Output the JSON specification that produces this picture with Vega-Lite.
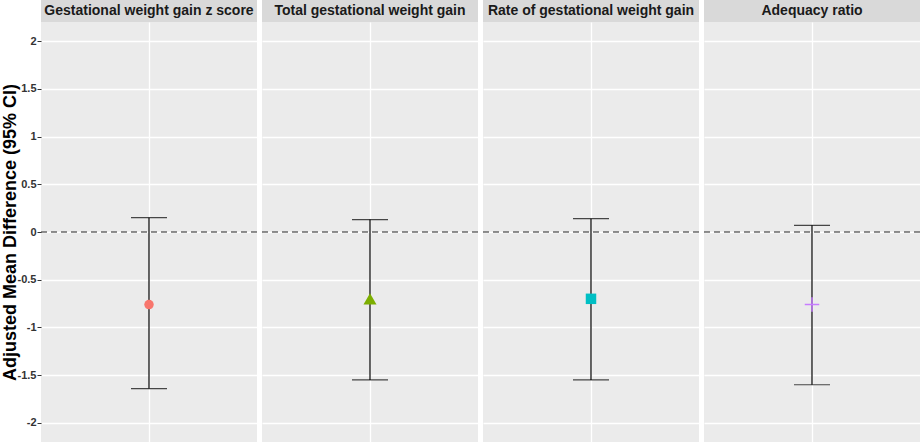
{
  "$schema": "https://vega.github.io/schema/vega-lite/v6.json",
  "padding": {"left": 1, "top": 0, "right": 0, "bottom": 0},
  "background": "#FFFFFF",
  "data": {"values": [
    {"measure": "Gestational weight gain z score", "estimate": -0.76, "lower": -1.64, "upper": 0.15},
    {"measure": "Total gestational weight gain", "estimate": -0.70, "lower": -1.55, "upper": 0.13},
    {"measure": "Rate of gestational weight gain", "estimate": -0.70, "lower": -1.55, "upper": 0.14},
    {"measure": "Adequacy ratio", "estimate": -0.76, "lower": -1.60, "upper": 0.07}
  ]},
  "spacing": 3,
  "hconcat": [
    {
      "transform": [{"filter": {"field": "measure", "equal": "Gestational weight gain z score"}}],
      "spacing": 0,
      "vconcat": [
        {"width": 216, "height": 22, "view": {"fill": "#D9D9D9", "stroke": null},
         "mark": {"type": "text", "fontSize": 14, "fontWeight": "bold", "color": "#1A1A1A", "baseline": "middle"},
         "encoding": {"text": {"field": "measure"}}},
        {"width": 216, "height": 420,
         "layer": [
           {"mark": {"type": "rule", "color": "#000000", "strokeWidth": 1.2},
            "encoding": {
              "x": {"field": "measure", "type": "nominal", "scale": {"type": "point"}, "axis": {"grid": true, "gridColor": "#FFFFFF", "gridWidth": 1.3, "labels": false, "ticks": false, "domain": false, "title": null}},
              "y": {"field": "lower", "type": "quantitative", "scale": {"domain": [-2.2, 2.2], "nice": false, "zero": false},
                    "axis": {"values": [-2,-1.75,-1.5,-1.25,-1,-0.75,-0.5,-0.25,0,0.25,0.5,0.75,1,1.25,1.5,1.75,2],
                             "labelExpr": "datum.value % 0.5 === 0 ? '' + datum.value : ''",
                             "labelOverlap": false, "labelFlush": false,
                             "title": "Adjusted Mean Difference (95% CI)", "titleFontSize": 18, "titleFontWeight": "bold", "titleColor": "#000000", "titlePadding": -2,
                             "labelFontSize": 11, "labelFontWeight": "bold", "labelColor": "#333333", "labelPadding": 1,
                             "tickSize": 4, "tickColor": "#333333",
                             "tickOpacity": {"condition": {"test": "datum.value % 0.5 !== 0", "value": 0}, "value": 1},
                             "domain": false, "grid": true, "gridColor": "#FFFFFF",
                             "gridWidth": {"condition": {"test": "datum.value % 0.5 === 0", "value": 1.3}, "value": 0.6}}},
              "y2": {"field": "upper"}}},
           {"mark": {"type": "rule", "strokeDash": [6, 4], "color": "#222222", "strokeWidth": 1},
            "encoding": {"y": {"datum": 0, "type": "quantitative", "title": "Adjusted Mean Difference (95% CI)"}}},
           {"mark": {"type": "tick", "orient": "horizontal", "size": 36, "thickness": 1.2, "color": "#000000"},
            "encoding": {"x": {"field": "measure", "type": "nominal", "title": null}, "y": {"field": "lower", "type": "quantitative", "title": "Adjusted Mean Difference (95% CI)"}}},
           {"mark": {"type": "tick", "orient": "horizontal", "size": 36, "thickness": 1.2, "color": "#000000"},
            "encoding": {"x": {"field": "measure", "type": "nominal", "title": null}, "y": {"field": "upper", "type": "quantitative", "title": "Adjusted Mean Difference (95% CI)"}}},
           {"mark": {"type": "point", "filled": true, "opacity": 1},
            "encoding": {
              "x": {"field": "measure", "type": "nominal", "title": null},
              "y": {"field": "estimate", "type": "quantitative", "title": "Adjusted Mean Difference (95% CI)"},
              "color": {"field": "measure", "type": "nominal", "legend": null, "scale": {"domain": ["Gestational weight gain z score", "Total gestational weight gain", "Rate of gestational weight gain", "Adequacy ratio"], "range": ["#F8766D", "#7CAE00", "#00BFC4", "#C77CFF"]}},
              "shape": {"field": "measure", "type": "nominal", "legend": null, "scale": {"domain": ["Gestational weight gain z score", "Total gestational weight gain", "Rate of gestational weight gain", "Adequacy ratio"], "range": ["circle", "triangle-up", "square", "M-1,-0.1H-0.1V-1H0.1V-0.1H1V0.1H0.1V1H-0.1V0.1H-1Z"]}},
              "size": {"field": "measure", "type": "nominal", "legend": null, "scale": {"type": "ordinal", "domain": ["Gestational weight gain z score", "Total gestational weight gain", "Rate of gestational weight gain", "Adequacy ratio"], "range": [90, 170, 110, 210]}}}}
         ]}
      ]
    },
    {
      "transform": [{"filter": {"field": "measure", "equal": "Total gestational weight gain"}}],
      "spacing": 0,
      "vconcat": [
        {"width": 216, "height": 22, "view": {"fill": "#D9D9D9", "stroke": null},
         "mark": {"type": "text", "fontSize": 14, "fontWeight": "bold", "color": "#1A1A1A", "baseline": "middle"},
         "encoding": {"text": {"field": "measure"}}},
        {"width": 216, "height": 420,
         "layer": [
           {"mark": {"type": "rule", "color": "#000000", "strokeWidth": 1.2},
            "encoding": {
              "x": {"field": "measure", "type": "nominal", "scale": {"type": "point"}, "axis": {"grid": true, "gridColor": "#FFFFFF", "gridWidth": 1.3, "labels": false, "ticks": false, "domain": false, "title": null}},
              "y": {"field": "lower", "type": "quantitative", "scale": {"domain": [-2.2, 2.2], "nice": false, "zero": false},
                    "axis": {"values": [-2,-1.75,-1.5,-1.25,-1,-0.75,-0.5,-0.25,0,0.25,0.5,0.75,1,1.25,1.5,1.75,2],
                             "labels": false, "ticks": false, "title": null,
                             "domain": false, "grid": true, "gridColor": "#FFFFFF",
                             "gridWidth": {"condition": {"test": "datum.value % 0.5 === 0", "value": 1.3}, "value": 0.6}}},
              "y2": {"field": "upper"}}},
           {"mark": {"type": "rule", "strokeDash": [6, 4], "color": "#222222", "strokeWidth": 1},
            "encoding": {"y": {"datum": 0, "type": "quantitative", "title": null}}},
           {"mark": {"type": "tick", "orient": "horizontal", "size": 36, "thickness": 1.2, "color": "#000000"},
            "encoding": {"x": {"field": "measure", "type": "nominal", "title": null}, "y": {"field": "lower", "type": "quantitative", "title": null}}},
           {"mark": {"type": "tick", "orient": "horizontal", "size": 36, "thickness": 1.2, "color": "#000000"},
            "encoding": {"x": {"field": "measure", "type": "nominal", "title": null}, "y": {"field": "upper", "type": "quantitative", "title": null}}},
           {"mark": {"type": "point", "filled": true, "opacity": 1},
            "encoding": {
              "x": {"field": "measure", "type": "nominal", "title": null},
              "y": {"field": "estimate", "type": "quantitative", "title": null},
              "color": {"field": "measure", "type": "nominal", "legend": null, "scale": {"domain": ["Gestational weight gain z score", "Total gestational weight gain", "Rate of gestational weight gain", "Adequacy ratio"], "range": ["#F8766D", "#7CAE00", "#00BFC4", "#C77CFF"]}},
              "shape": {"field": "measure", "type": "nominal", "legend": null, "scale": {"domain": ["Gestational weight gain z score", "Total gestational weight gain", "Rate of gestational weight gain", "Adequacy ratio"], "range": ["circle", "triangle-up", "square", "M-1,-0.1H-0.1V-1H0.1V-0.1H1V0.1H0.1V1H-0.1V0.1H-1Z"]}},
              "size": {"field": "measure", "type": "nominal", "legend": null, "scale": {"type": "ordinal", "domain": ["Gestational weight gain z score", "Total gestational weight gain", "Rate of gestational weight gain", "Adequacy ratio"], "range": [90, 170, 110, 210]}}}}
         ]}
      ]
    },
    {
      "transform": [{"filter": {"field": "measure", "equal": "Rate of gestational weight gain"}}],
      "spacing": 0,
      "vconcat": [
        {"width": 216, "height": 22, "view": {"fill": "#D9D9D9", "stroke": null},
         "mark": {"type": "text", "fontSize": 14, "fontWeight": "bold", "color": "#1A1A1A", "baseline": "middle"},
         "encoding": {"text": {"field": "measure"}}},
        {"width": 216, "height": 420,
         "layer": [
           {"mark": {"type": "rule", "color": "#000000", "strokeWidth": 1.2},
            "encoding": {
              "x": {"field": "measure", "type": "nominal", "scale": {"type": "point"}, "axis": {"grid": true, "gridColor": "#FFFFFF", "gridWidth": 1.3, "labels": false, "ticks": false, "domain": false, "title": null}},
              "y": {"field": "lower", "type": "quantitative", "scale": {"domain": [-2.2, 2.2], "nice": false, "zero": false},
                    "axis": {"values": [-2,-1.75,-1.5,-1.25,-1,-0.75,-0.5,-0.25,0,0.25,0.5,0.75,1,1.25,1.5,1.75,2],
                             "labels": false, "ticks": false, "title": null,
                             "domain": false, "grid": true, "gridColor": "#FFFFFF",
                             "gridWidth": {"condition": {"test": "datum.value % 0.5 === 0", "value": 1.3}, "value": 0.6}}},
              "y2": {"field": "upper"}}},
           {"mark": {"type": "rule", "strokeDash": [6, 4], "color": "#222222", "strokeWidth": 1},
            "encoding": {"y": {"datum": 0, "type": "quantitative", "title": null}}},
           {"mark": {"type": "tick", "orient": "horizontal", "size": 36, "thickness": 1.2, "color": "#000000"},
            "encoding": {"x": {"field": "measure", "type": "nominal", "title": null}, "y": {"field": "lower", "type": "quantitative", "title": null}}},
           {"mark": {"type": "tick", "orient": "horizontal", "size": 36, "thickness": 1.2, "color": "#000000"},
            "encoding": {"x": {"field": "measure", "type": "nominal", "title": null}, "y": {"field": "upper", "type": "quantitative", "title": null}}},
           {"mark": {"type": "point", "filled": true, "opacity": 1},
            "encoding": {
              "x": {"field": "measure", "type": "nominal", "title": null},
              "y": {"field": "estimate", "type": "quantitative", "title": null},
              "color": {"field": "measure", "type": "nominal", "legend": null, "scale": {"domain": ["Gestational weight gain z score", "Total gestational weight gain", "Rate of gestational weight gain", "Adequacy ratio"], "range": ["#F8766D", "#7CAE00", "#00BFC4", "#C77CFF"]}},
              "shape": {"field": "measure", "type": "nominal", "legend": null, "scale": {"domain": ["Gestational weight gain z score", "Total gestational weight gain", "Rate of gestational weight gain", "Adequacy ratio"], "range": ["circle", "triangle-up", "square", "M-1,-0.1H-0.1V-1H0.1V-0.1H1V0.1H0.1V1H-0.1V0.1H-1Z"]}},
              "size": {"field": "measure", "type": "nominal", "legend": null, "scale": {"type": "ordinal", "domain": ["Gestational weight gain z score", "Total gestational weight gain", "Rate of gestational weight gain", "Adequacy ratio"], "range": [90, 170, 110, 210]}}}}
         ]}
      ]
    },
    {
      "transform": [{"filter": {"field": "measure", "equal": "Adequacy ratio"}}],
      "spacing": 0,
      "vconcat": [
        {"width": 216, "height": 22, "view": {"fill": "#D9D9D9", "stroke": null},
         "mark": {"type": "text", "fontSize": 14, "fontWeight": "bold", "color": "#1A1A1A", "baseline": "middle"},
         "encoding": {"text": {"field": "measure"}}},
        {"width": 216, "height": 420,
         "layer": [
           {"mark": {"type": "rule", "color": "#000000", "strokeWidth": 1.2},
            "encoding": {
              "x": {"field": "measure", "type": "nominal", "scale": {"type": "point"}, "axis": {"grid": true, "gridColor": "#FFFFFF", "gridWidth": 1.3, "labels": false, "ticks": false, "domain": false, "title": null}},
              "y": {"field": "lower", "type": "quantitative", "scale": {"domain": [-2.2, 2.2], "nice": false, "zero": false},
                    "axis": {"values": [-2,-1.75,-1.5,-1.25,-1,-0.75,-0.5,-0.25,0,0.25,0.5,0.75,1,1.25,1.5,1.75,2],
                             "labels": false, "ticks": false, "title": null,
                             "domain": false, "grid": true, "gridColor": "#FFFFFF",
                             "gridWidth": {"condition": {"test": "datum.value % 0.5 === 0", "value": 1.3}, "value": 0.6}}},
              "y2": {"field": "upper"}}},
           {"mark": {"type": "rule", "strokeDash": [6, 4], "color": "#222222", "strokeWidth": 1},
            "encoding": {"y": {"datum": 0, "type": "quantitative", "title": null}}},
           {"mark": {"type": "tick", "orient": "horizontal", "size": 36, "thickness": 1.2, "color": "#000000"},
            "encoding": {"x": {"field": "measure", "type": "nominal", "title": null}, "y": {"field": "lower", "type": "quantitative", "title": null}}},
           {"mark": {"type": "tick", "orient": "horizontal", "size": 36, "thickness": 1.2, "color": "#000000"},
            "encoding": {"x": {"field": "measure", "type": "nominal", "title": null}, "y": {"field": "upper", "type": "quantitative", "title": null}}},
           {"mark": {"type": "point", "filled": true, "opacity": 1},
            "encoding": {
              "x": {"field": "measure", "type": "nominal", "title": null},
              "y": {"field": "estimate", "type": "quantitative", "title": null},
              "color": {"field": "measure", "type": "nominal", "legend": null, "scale": {"domain": ["Gestational weight gain z score", "Total gestational weight gain", "Rate of gestational weight gain", "Adequacy ratio"], "range": ["#F8766D", "#7CAE00", "#00BFC4", "#C77CFF"]}},
              "shape": {"field": "measure", "type": "nominal", "legend": null, "scale": {"domain": ["Gestational weight gain z score", "Total gestational weight gain", "Rate of gestational weight gain", "Adequacy ratio"], "range": ["circle", "triangle-up", "square", "M-1,-0.1H-0.1V-1H0.1V-0.1H1V0.1H0.1V1H-0.1V0.1H-1Z"]}},
              "size": {"field": "measure", "type": "nominal", "legend": null, "scale": {"type": "ordinal", "domain": ["Gestational weight gain z score", "Total gestational weight gain", "Rate of gestational weight gain", "Adequacy ratio"], "range": [90, 170, 110, 210]}}}}
         ]}
      ]
    }
  ],
  "config": {
    "font": "Liberation Sans",
    "view": {"stroke": null, "fill": "#EBEBEB"}
  }
}
